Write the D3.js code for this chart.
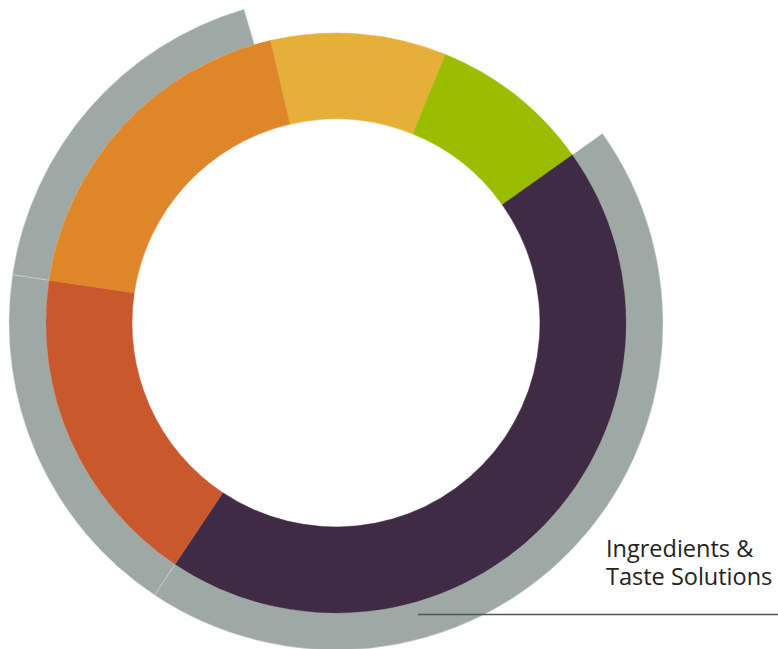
<!DOCTYPE html>
<html>
<head>
<meta charset="utf-8">
<script src="https://cdn.jsdelivr.net/npm/d3@7"></script>
<style>
  html, body { margin: 0; padding: 0; background: #fff; }
  svg { display: block; }
  .label { font-family: "Open Sans", sans-serif; font-size: 23.5px; fill: #222; }
</style>
</head>
<body>
<svg class="donut" width="778" height="649"></svg>
<script>
// data (shares in %)
var categories = ["Yellow", "Green", "Ingredients & Taste Solutions", "Red", "Orange"];
var shares = [9.8, 9.0, 44.2, 18.0, 19.0];
var outerShares = [0, 0, 44.2, 18.0, 18.1];
var colours = ["#e6b038", "#9bbd00", "#3f2b43", "#c9592d", "#df862b"];
var labelLines = ["Ingredients &", "Taste Solutions"];

(function donutIFFE() {
    var svg = d3.select("svg.donut"),
        cx = 336, cy = 323,
        innerR = 204, midR = 290, outerR = 327;

    var data = categories.map(function(c, i) {
        return {name: c, share: shares[i], outer: outerShares[i], colour: colours[i]};
    });

    var start = -13.1 * Math.PI / 180;
    var pie = d3.pie()
        .sort(null)
        .value(function(d) { return d.share; })
        .startAngle(start)
        .endAngle(start + 2 * Math.PI);

    var arcs = pie(data);
    var angle = d3.scaleLinear().domain([0, 100]).range([0, 2 * Math.PI]);

    var g = svg.append("g")
        .attr("transform", "translate(" + cx + "," + cy + ")");

    var innerArc = d3.arc().innerRadius(innerR).outerRadius(midR);
    var outerArc = d3.arc().innerRadius(midR).outerRadius(outerR);

    // grey outer ring
    g.selectAll(".outer")
        .data(arcs.filter(function(a) { return a.data.outer > 0; }))
        .enter()
        .append("path")
        .attr("class", "outer")
        .attr("d", function(a) {
            return outerArc({startAngle: a.startAngle, endAngle: a.startAngle + angle(a.data.outer)});
        })
        .attr("fill", "#9ea8a5")
        .attr("stroke", "#d5dad8")
        .attr("stroke-width", 0.5);

    // coloured ring
    g.selectAll(".slice")
        .data(arcs)
        .enter()
        .append("path")
        .attr("class", "slice")
        .attr("d", innerArc)
        .attr("fill", function(a) { return a.data.colour; })
        .attr("stroke", function(a) { return a.data.colour; })
        .attr("stroke-width", 0.5);

    // label and leader line
    svg.append("line")
        .attr("x1", 418).attr("x2", 778)
        .attr("y1", 614.5).attr("y2", 614.5)
        .attr("stroke", "#555")
        .attr("stroke-width", 1.5);

    svg.append("text")
        .attr("class", "label")
        .attr("x", 606)
        .attr("y", 557)
        .selectAll("tspan")
        .data(labelLines)
        .enter()
        .append("tspan")
        .attr("x", 606)
        .attr("dy", function(d, i) { return i ? 28 : 0; })
        .text(function(d) { return d; });
})();
</script>
</body>
</html>
